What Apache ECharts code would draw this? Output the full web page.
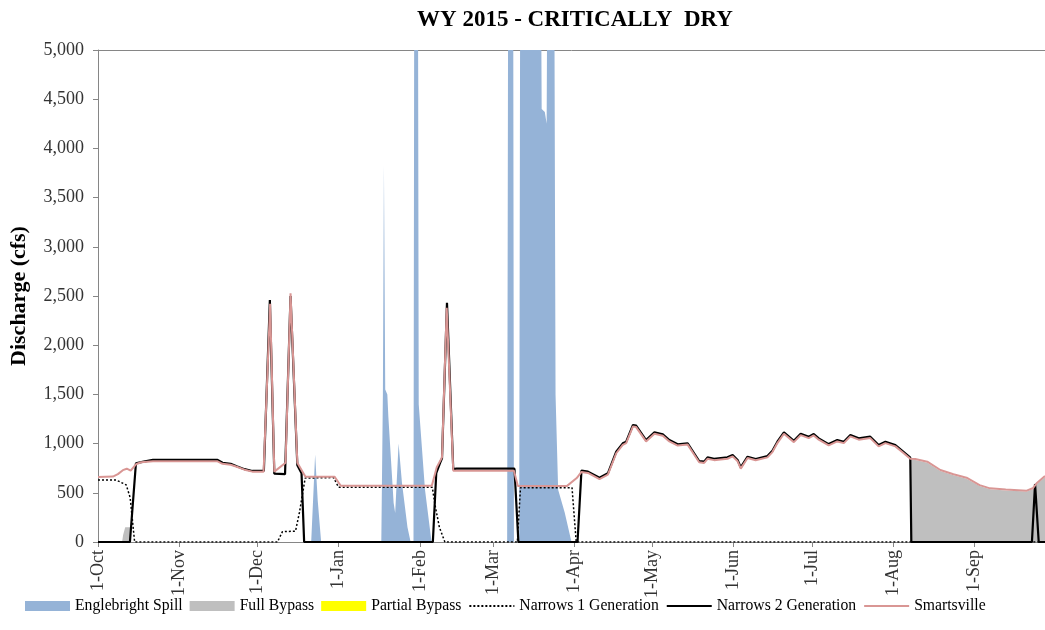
<!DOCTYPE html>
<html>
<head>
<meta charset="utf-8">
<script src="https://cdn.jsdelivr.net/npm/echarts@6/dist/echarts.min.js"></script>
<style>
html,body{margin:0;padding:0;background:#fff;}
#chart{width:1045px;height:630px;}
</style>
</head>
<body>
<div id="chart"></div>
<script>
// x values are days since 1-Oct-2014
const monthTickDays = [0, 31, 61, 92, 123, 151, 182, 212, 243, 273, 304, 335];
const monthTickLabels = ['1-Oct', '1-Nov', '1-Dec', '1-Jan', '1-Feb', '1-Mar', '1-Apr', '1-May', '1-Jun', '1-Jul', '1-Aug', '1-Sep'];

const englebrightSpill = [[0,0],[81.5,0],[83,890],[84,420],[85.3,0],[108.3,0],[108.9,1500],[109.3,3830],[109.8,1550],[110.6,1500],[111,1270],[113,400],[113.6,295],[114.9,1000],[116.2,600],[118.3,150],[119.5,0],[120.6,0],[120.9,6000],[122.3,6000],[122.6,1400],[125,530],[127.5,0],[156.4,0],[156.8,6000],[158.7,6000],[159,0],[161,0],[161.4,6000],[169.3,6000],[169.6,4400],[170.8,4370],[171.5,4250],[171.8,6000],[174.4,6000],[174.9,1500],[175.9,530],[178.4,300],[181,0],[362,0]];

const fullBypass = [[0,0],[9.2,0],[9.6,70],[10.4,150],[12.4,150],[12.6,0],[310.5,0],[310.7,835],[312.4,833],[317,806],[322,722],[327,678],[332,643],[337,568],[341,535],[347,523],[355,512],[357.3,536],[358.8,586],[362,661]];

const partialBypass = [[0,0],[362,0]];

const narrows1 = [[0,630],[6.9,630],[8.5,610],[10.8,580],[12.3,450],[14,0],[68.6,0],[70.5,105],[75.5,110],[77,300],[79.2,650],[90,655],[92,556],[127.8,556],[128.8,380],[130.5,150],[132.6,0],[160.3,0],[161.5,552],[181.2,552],[182.8,0],[362,0]];

const narrows2 = [[0,0],[12.2,0],[14.5,800],[17,815],[21,835],[45.7,835],[47.6,805],[50.7,795],[53,770],[56,740],[59,722],[63.4,722],[65.7,2460],[67.4,695],[71.5,690],[73.6,2500],[76.2,780],[77.8,700],[78.8,0],[128,0],[129.3,700],[130.7,800],[131.5,850],[133.4,2430],[134,2440],[135.8,740],[137,745],[159.2,745],[160.7,0],[183.3,0],[184.8,725],[187.3,715],[191.7,653],[194.9,698],[198.1,917],[200.6,1003],[201.9,1019],[204.5,1189],[205.7,1182],[209.5,1036],[212.7,1114],[215.9,1094],[218.4,1036],[221.6,993],[225.4,1003],[229.8,823],[231.7,816],[233,860],[235.5,846],[240.6,860],[242.6,884],[244.5,833],[245.7,759],[248.3,867],[251.4,843],[255.9,874],[257.8,928],[259.7,1019],[262.2,1114],[266,1029],[268.6,1100],[271.7,1070],[273.6,1097],[275.5,1053],[279.3,995],[282.6,1036],[285.1,1019],[287.6,1087],[290.8,1053],[295.2,1070],[298.4,985],[301,1019],[304.8,985],[307.9,917],[310.5,857],[310.9,0],[357,0],[358.2,590],[359.6,0],[362,0]];

const smartsville = [[0,660],[5.7,665],[7.6,690],[9.5,730],[11,745],[12.5,725],[14.5,790],[16.5,810],[21,820],[45.7,820],[47.6,795],[50.7,785],[53,765],[56,735],[59,715],[63.3,715],[65.8,2420],[67.4,715],[71.7,806],[73.6,2527],[76.2,806],[79.3,664],[90.4,664],[92.8,572],[127.6,572],[129.5,760],[131.5,860],[133.3,2380],[134,2380],[135.8,725],[159,725],[160.5,568],[179.2,568],[183,650],[184.8,712],[187.3,702],[191.7,640],[194.9,685],[198.1,902],[200.6,988],[201.9,1005],[204.5,1175],[205.7,1168],[209.5,1022],[212.7,1100],[215.9,1080],[218.4,1022],[221.6,980],[225.4,990],[229.8,810],[231.7,803],[233,846],[235.5,832],[240.6,846],[242.6,870],[244.5,820],[245.7,746],[248.3,853],[251.4,830],[255.9,860],[257.8,914],[259.7,1005],[262.2,1100],[266,1015],[268.6,1086],[271.7,1056],[273.6,1083],[275.5,1040],[279.3,982],[282.6,1022],[285.1,1005],[287.6,1073],[290.8,1040],[295.2,1056],[298.4,972],[301,1005],[304.8,972],[307.9,905],[310.5,845],[312.4,843],[317,816],[322,732],[327,688],[332,653],[337,578],[341,545],[347,533],[355,522],[357.3,546],[358.8,596],[362,671]];

const FONT = '"Liberation Serif", "Times New Roman", serif';
function comma(v){ return String(v).replace(/\B(?=(\d{3})+(?!\d))/g, ','); }

const chart = echarts.init(document.getElementById('chart'), null, {renderer: 'canvas'});
chart.setOption({
  animation: false,
  backgroundColor: '#fff',
  title: {
    text: 'WY 2015 - CRITICALLY  DRY',
    left: 570, top: 4, textAlign: 'center',
    textStyle: {fontFamily: FONT, fontSize: 23, fontWeight: 'bold', color: '#000'}
  },
  legend: {
    left: 20, top: 593,
    itemWidth: 45, itemHeight: 10, itemGap: 7,
    textStyle: {fontFamily: FONT, fontSize: 15.7, color: '#000'},
    data: [
      {name: 'Englebright Spill', icon: 'rect'},
      {name: 'Full Bypass', icon: 'rect'},
      {name: 'Partial Bypass', icon: 'rect'},
      {name: 'Narrows 1 Generation', itemStyle: {opacity: 0}},
      {name: 'Narrows 2 Generation', itemStyle: {opacity: 0}},
      {name: 'Smartsville', itemStyle: {opacity: 0}}
    ]
  },
  grid: {left: 95, right: 0, top: 50, bottom: 88, containLabel: false},
  xAxis: [{
    type: 'value', min: 0, max: 362,
    splitLine: {show: false},
    axisLine: {show: true, lineStyle: {color: '#868686', width: 1}},
    axisTick: {show: true, length: 5, customValues: monthTickDays, lineStyle: {color: '#868686'}},
    axisLabel: {
      customValues: monthTickDays, rotate: 90, margin: 8,
      fontFamily: FONT, fontSize: 18, color: '#333',
      formatter: function(v){ const i = monthTickDays.indexOf(Math.round(v)); return i >= 0 ? monthTickLabels[i] : ''; }
    }
  }, {
    type: 'value', position: 'top', min: 0, max: 362,
    splitLine: {show: false}, axisTick: {show: false}, axisLabel: {show: false},
    axisLine: {show: true, lineStyle: {color: '#868686', width: 1}}
  }],
  yAxis: {
    type: 'value', min: 0, max: 5000, interval: 500,
    name: 'Discharge (cfs)', nameLocation: 'middle', nameGap: 68,
    nameTextStyle: {fontFamily: FONT, fontSize: 22, fontWeight: 'bold', color: '#000'},
    splitLine: {show: false},
    axisLine: {show: true, lineStyle: {color: '#868686', width: 1}},
    axisTick: {show: true, length: 5, lineStyle: {color: '#868686'}},
    axisLabel: {fontFamily: FONT, fontSize: 18, color: '#333', margin: 14, formatter: comma}
  },
  series: [
    {name: 'Englebright Spill', type: 'line', data: englebrightSpill, showSymbol: false, symbol: 'none', color: '#95B3D7',
     lineStyle: {width: 0}, areaStyle: {color: '#95B3D7', opacity: 1}, clip: true, z: 1},
    {name: 'Full Bypass', type: 'line', data: fullBypass, showSymbol: false, symbol: 'none', color: '#BFBFBF',
     lineStyle: {width: 0}, areaStyle: {color: '#BFBFBF', opacity: 1}, clip: true, z: 1},
    {name: 'Partial Bypass', type: 'line', data: partialBypass, showSymbol: false, symbol: 'none', color: '#FFFF00',
     lineStyle: {width: 0}, areaStyle: {color: '#FFFF00', opacity: 1}, clip: true, z: 1},
    {name: 'Narrows 1 Generation', type: 'line', data: narrows1, showSymbol: false, symbol: 'none', color: '#000',
     lineStyle: {width: 1.5, type: [2, 2], color: '#000'}, clip: true, z: 2},
    {name: 'Narrows 2 Generation', type: 'line', data: narrows2, showSymbol: false, symbol: 'none', color: '#000',
     lineStyle: {width: 2.2, color: '#000'}, clip: true, z: 3},
    {name: 'Smartsville', type: 'line', data: smartsville, showSymbol: false, symbol: 'none', color: '#D99694',
     lineStyle: {width: 2, color: '#D99694'}, clip: true, z: 4}
  ]
});
</script>
</body>
</html>
